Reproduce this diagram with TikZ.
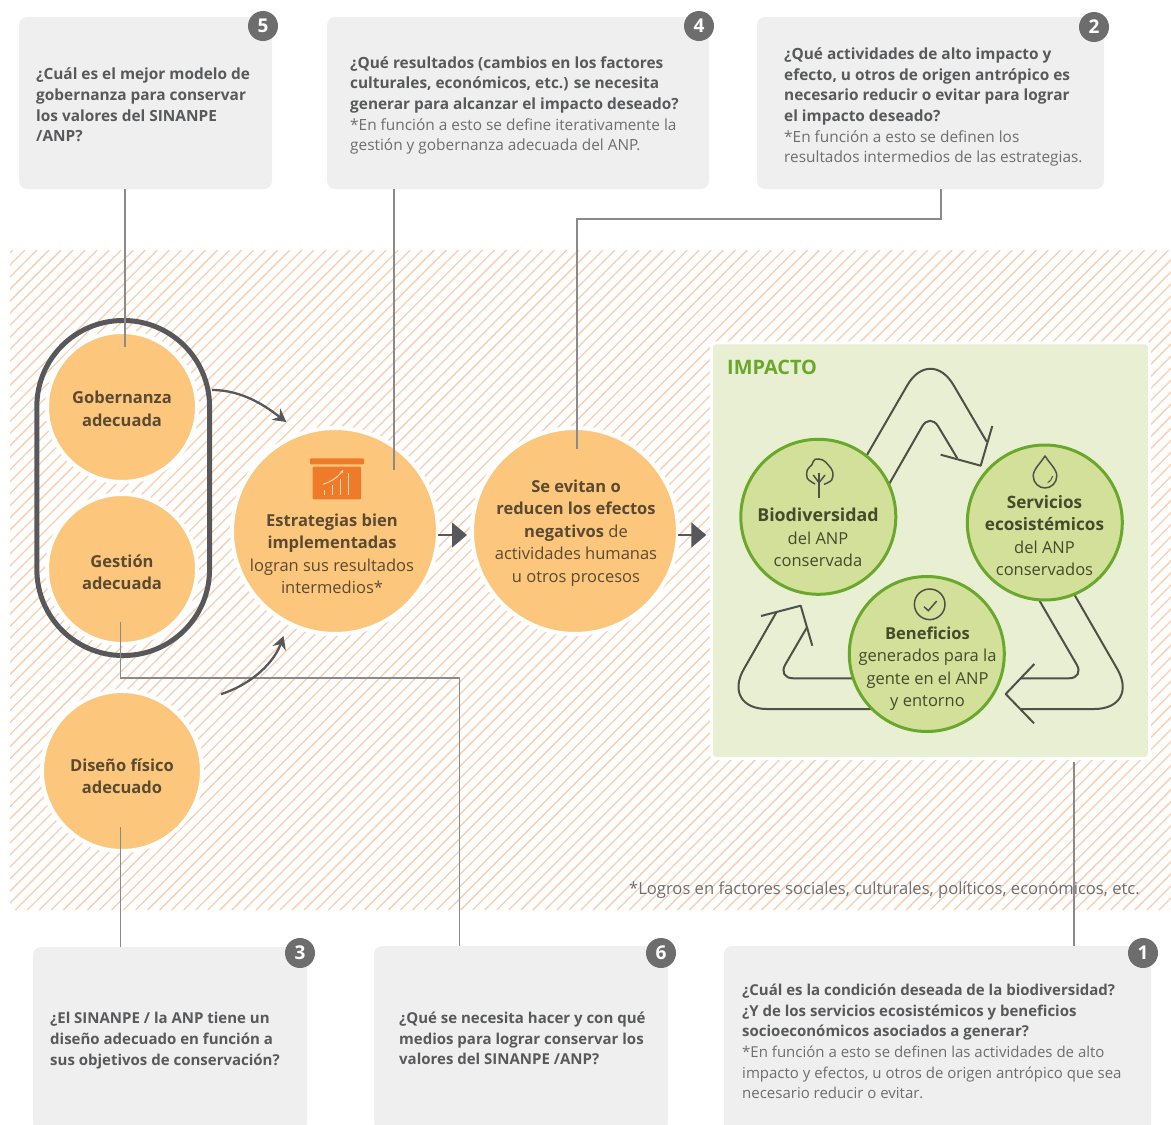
\documentclass[tikz,border=0pt]{standalone}
\usepackage{fontspec}
\setmainfont{Open Sans}
\usetikzlibrary{arrows.meta,positioning}

\definecolor{hatchorange}{HTML}{F6CFB2}
\definecolor{circleorange}{HTML}{FCC77C}
\definecolor{iconorange}{HTML}{EE7B2A}
\definecolor{iconpale}{HTML}{FBD9B6}
\definecolor{textbrown}{HTML}{5A4A32}
\definecolor{linkgray}{HTML}{8A8A8A}
\definecolor{darkgray}{HTML}{58585A}
\definecolor{boxgray}{HTML}{EFEFEF}
\definecolor{badgegray}{HTML}{6D6D6D}
\definecolor{qdark}{HTML}{58595B}
\definecolor{qreg}{HTML}{6D6E70}
\definecolor{impactbg}{HTML}{E8EFD2}
\definecolor{impactgreen}{HTML}{69A82B}
\definecolor{circlegreen}{HTML}{D2E09A}
\definecolor{textgreen}{HTML}{454A2C}
\definecolor{recycle}{HTML}{4F5149}

\newcommand{\qb}[1]{{\bfseries\color{qdark}#1}}

\tikzset{
    qbox/.style={fill=boxgray, rounded corners=8pt, inner sep=0pt},
    qtext/.style={align=left, inner sep=0pt, text=qreg, anchor=west,
        font=\fontsize{15.4}{20.7}\selectfont},
    qtextlow/.style={qtext, font=\fontsize{15}{20.7}\selectfont},
    badge/.style={circle, fill=badgegray, text=white, inner sep=0pt, minimum size=30pt,
        font=\fontsize{19}{19}\selectfont\bfseries},
    orangecircle/.style={circle, fill=circleorange, draw=white, line width=4pt, inner sep=0pt, outer sep=0pt},
    greencircle/.style={circle, fill=circlegreen, draw=impactgreen, line width=3pt,
        inner sep=0pt, minimum size=155pt},
    orangetext/.style={align=center, inner sep=0pt, text=textbrown,
        font=\fontsize{16.5}{22.4}\selectfont},
    greentext/.style={align=center, inner sep=0pt, text=textgreen,
        font=\fontsize{16.5}{22.4}\selectfont},
    link/.style={draw=linkgray, line width=1.3pt},
    steparrow/.style={draw=darkgray, line width=1.2pt, -{Triangle[length=15pt,width=25pt]}},
    curvearrow/.style={draw=darkgray, line width=2.3pt, -{Stealth[length=13pt,width=14pt]}},
    recycleline/.style={draw=recycle, line width=2pt},
    iconline/.style={draw=recycle, line width=1.5pt}
}

\begin{document}
\begin{tikzpicture}[x=1pt, y=-1pt]
    \clip (0,0) rectangle (1171,1125);

    % Hatched band
    \begin{scope}
        \clip (10,250) rectangle (1171,910);
        \foreach \hx in {-659.08,-647.04,...,1180}
            \draw[hatchorange, line width=1.3pt] (\hx,910) -- (\hx+660,250);
    \end{scope}

    % Question boxes
    \node[qbox, minimum width=253pt, minimum height=172pt] (q5) at (145.5,103) {};
    \node[qbox, minimum width=382pt, minimum height=172pt] (q4) at (518,103) {};
    \node[qbox, minimum width=347pt, minimum height=172pt] (q2) at (930.5,103) {};
    \node[qbox, minimum width=274pt, minimum height=184pt] (q3) at (170,1039) {};
    \node[qbox, minimum width=294pt, minimum height=184pt] (q6) at (521,1038) {};
    \node[qbox, minimum width=427pt, minimum height=190pt] (q1) at (937.5,1041) {};

    \node[qtext] (q5t) at (36,105) {\qb{¿Cuál es el mejor modelo de}\\\qb{gobernanza para conservar}\\\qb{los valores del SINANPE}\\\qb{/ANP?}};
    \node[qtext] (q4t) at (350,105.5) {\qb{¿Qué resultados (cambios en los factores}\\\qb{culturales, económicos, etc.) se necesita}\\\qb{generar para alcanzar el impacto deseado?}\\*En función a esto se define iterativamente la\\gestión y gobernanza adecuada del ANP.};
    \node[qtext] (q2t) at (784,107) {\qb{¿Qué actividades de alto impacto y}\\\qb{efecto, u otros de origen antrópico es}\\\qb{necesario reducir o evitar para lograr}\\\qb{el impacto deseado?}\\*En función a esto se definen los\\resultados intermedios de las estrategias.};
    \node[qtextlow] (q3t) at (50,1040.5) {\qb{¿El SINANPE / la ANP tiene un}\\\qb{diseño adecuado en función a}\\\qb{sus objetivos de conservación?}};
    \node[qtextlow] (q6t) at (399,1038.5) {\qb{¿Qué se necesita hacer y con qué}\\\qb{medios para lograr conservar los}\\\qb{valores del SINANPE /ANP?}};
    \node[qtextlow] (q1t) at (742,1041.5) {\qb{¿Cuál es la condición deseada de la biodiversidad?}\\\qb{¿Y de los servicios ecosistémicos y beneficios}\\\qb{socioeconómicos asociados a generar?}\\*En función a esto se definen las actividades de alto\\impacto y efectos, u otros de origen antrópico que sea\\necesario reducir o evitar.};

    % Number badges
    \node[badge] (b5) at (263,26) {5};
    \node[badge] (b4) at (699,26) {4};
    \node[badge] (b2) at (1094,27) {2};
    \node[badge] (b3) at (300,953) {3};
    \node[badge] (b6) at (661,953) {6};
    \node[badge] (b1) at (1143,953) {1};

    % Orange circles
    \node[draw=darkgray, line width=5pt, rounded corners=86pt, minimum width=172.7pt, minimum height=335pt] (pill) at (123.2,488) {};
    \node[orangecircle, minimum size=150pt] (gob) at (122,407) {};
    \node[orangecircle, minimum size=150pt] (ges) at (122,569) {};
    \node[orangecircle, minimum size=160pt] (dis) at (122,771) {};
    \node[orangecircle, minimum size=206pt] (estr) at (335,531) {};
    \node[orangecircle, minimum size=206pt] (evi) at (575,531) {};

    \node[orangetext] (gobt) at (122,409) {\textbf{Gobernanza}\\\textbf{adecuada}};
    \node[orangetext] (gest) at (122,572.5) {\textbf{Gestión}\\\textbf{adecuada}};
    \node[orangetext] (dist) at (122,776.5) {\textbf{Diseño físico}\\\textbf{adecuado}};
    \node[orangetext] (estrt) at (332,553.7) {\textbf{Estrategias bien}\\\textbf{implementadas}\\logran sus resultados\\intermedios*};
    \node[orangetext] (evit) at (576,533) {\textbf{Se evitan o}\\\textbf{reducen los efectos}\\\textbf{negativos} de\\actividades humanas\\u otros procesos};

    % Chart icon
    \fill[iconorange, rounded corners=1pt] (310,458.3) rectangle (364,464.4);
    \fill[iconorange, rounded corners=1pt] (312.7,466.7) rectangle (361,499.3);
    \foreach \bx/\by in {324/490,332.7/485,340.7/479.3,348.7/472.7}
        \draw[iconpale, line width=1pt] (\bx,495) -- (\bx,\by);
    \draw[iconpale, line width=1pt, -{Stealth[length=3pt,width=3pt]}] (322.7,484.3) .. controls (331,482) and (338,477) .. (343.3,470);

    % Impact panel
    \node[fill=impactbg, draw=white, line width=3pt, outer sep=0pt, rounded corners=4pt, minimum width=438pt, minimum height=415.5pt] (impacto) at (930.3,550.5) {};
    \node[anchor=west, inner sep=0pt, text=impactgreen, font=\fontsize{19.9}{20}\selectfont\bfseries] (impactot) at (727,367.5) {IMPACTO};

    % Recycling arrows
    \draw[recycleline, rounded corners=46pt] (860,467) -- (930.3,345.5) -- (986.7,441.7);
    \draw[recycleline, rounded corners=16pt] (880,500) -- (930,412.7) -- (957.3,458.3);
    \draw[recycleline, line join=round] (992.3,426) -- (980.7,465.7) -- (940.7,454.7);
    \draw[recycleline, rounded corners=46pt] (1070,587) -- (1140.3,709) -- (1020,709);
    \draw[recycleline, rounded corners=16pt] (1035,593) -- (1084.7,678.3) -- (1020,678.3);
    \draw[recycleline, line join=round] (1034.3,664) -- (1005.7,694) -- (1034,723.3);
    \draw[recycleline, rounded corners=46pt] (880,709) -- (721,709) -- (776.7,611.7);
    \draw[recycleline, rounded corners=16pt] (860,678.3) -- (777.3,678.3) -- (807.3,626.7);
    \draw[recycleline, line join=round] (761,616) -- (800.7,605.7) -- (812.3,645.7);

    % Green circles
    \node[greencircle] (bio) at (818.3,516.8) {};
    \node[greencircle] (ser) at (1044.8,522.5) {};
    \node[greencircle] (ben) at (926.8,654) {};
    \node[greentext] (biot) at (818,537.5) {{\fontsize{17.8}{22.4}\selectfont\textbf{Biodiversidad}}\\del ANP\\conservada};
    \node[greentext] (sert) at (1044.5,535.5) {{\fontsize{17.1}{22.4}\selectfont\textbf{Servicios}}\\{\fontsize{17.1}{22.4}\selectfont\textbf{ecosistémicos}}\\del ANP\\conservados};
    \node[greentext] (bent) at (927.5,668.5) {\textbf{Beneficios}\\generados para la\\gente en el ANP\\y entorno};

    % Tree, drop and tick icons
    \draw[iconline] plot[smooth, tension=0.6] coordinates {(815,484) (807.3,478.3) (807.3,470) (811.7,465) (815,459.3) (822.7,460) (828.3,465) (832.7,471.7) (831.7,480) (824,484.3)};
    \draw[iconline] (819,498.3) -- (819,473.3);
    \draw[iconline] (813.3,475) -- (819,482.7) -- (825,475);
    \draw[iconline, line join=round] (1045,455.7) .. controls (1041,463) and (1033.2,469) .. (1033.2,476) .. controls (1033.2,483) and (1039,488) .. (1045,488) .. controls (1051,488) and (1056.8,483) .. (1056.8,476) .. controls (1056.8,469) and (1049,463) .. (1045,455.7);
    \draw[iconline, line width=1pt] (1047.7,482.7) .. controls (1050,481.5) and (1052,479) .. (1052.7,476);
    \draw[iconline] (929.7,604.3) circle (15.3);
    \draw[iconline] (924,606.7) -- (928.3,610.7) -- (936.7,601);

    % Connectors
    \coordinate (gobend) at (125,347);
    \coordinate (estrend) at (394,470);
    \coordinate (eviend) at (577,449);
    \coordinate (gesstart) at (120.5,622);
    \coordinate (disstart) at (120.5,827);
    \coordinate (impstart) at (1074,762);
    \draw[link] (q5.south -| gobend) -- (gobend);
    \draw[link] (q4.south -| estrend) -- (estrend);
    \draw[link] (q2.south -| 941,0) |- (577,219) -- (eviend);
    \draw[link] (gesstart) |- (459.5,678) -- (459.5,0 |- q6.north);
    \draw[link] (disstart) -- (disstart |- q3.north);
    \draw[link] (impstart) -- (impstart |- q1.north);

    % Arrows between circles
    \draw[steparrow, shorten >=5pt] ([yshift=-4pt]estr.east) -- ([yshift=-4pt]evi.west);
    \draw[steparrow, shorten >=5pt] ([yshift=-4pt]evi.east) -- ([yshift=-4pt]evi.east -| impacto.west);
    \draw[curvearrow, shorten >=19pt] ([yshift=98pt]pill.east) .. controls +(32,0) and (268,408) .. (estr.109);
    \draw[curvearrow, shorten <=50pt, shorten >=14pt] (dis.50) .. controls (255,683) and (275,660) .. (estr.243);

    % Footnote
    \node[anchor=east, inner sep=0pt, text=qreg, font=\fontsize{16.6}{20}\selectfont] (nota) at (1140,890) {*Logros en factores sociales, culturales, políticos, económicos, etc.};
\end{tikzpicture}
\end{document}
